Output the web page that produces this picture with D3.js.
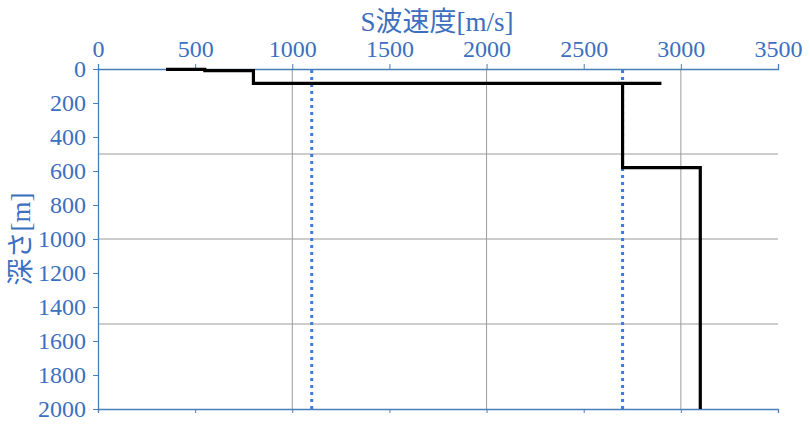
<!DOCTYPE html>
<html><head><meta charset="utf-8">
<script src="https://cdn.jsdelivr.net/npm/d3@7"></script>
<style>
body{margin:0;background:#fff}
svg text{font-family:"Liberation Serif","Times New Roman",Times,"Noto Sans CJK JP",serif !important;}
</style>
</head><body>
<svg id="c" width="810" height="426"></svg>
<script>
const xTicks = [0,500,1000,1500,2000,2500,3000,3500];
const yTicks = [0,200,400,600,800,1000,1200,1400,1600,1800,2000];
const xGrid = [1000,2000,3000];
const yGrid = [500,1000,1500];
// step profile: velocity (m/s) vs depth (m)
const profileVel   = [350, 550, 550, 800, 800, 2900, 2700, 2700, 3100, 3100];
const profileDepth = [2,   2,   10,  10,  85,  85,   85,   580,  580,  2000];
const refVel = [1100, 2700];

const svg = d3.select("#c");
const L=98, R=778, T=69, B=409;
const x = d3.scaleLinear().domain([0,3500]).range([L,R]);
const y = d3.scaleLinear().domain([0,2000]).range([T,B]);
const blue="#4a7ebb", txt="#3c6fc0";

// grid
svg.append("g").selectAll("line").data(xGrid).join("line")
  .attr("x1",d=>x(d)).attr("x2",d=>x(d)).attr("y1",T).attr("y2",B)
  .attr("stroke","#9a9a9a").attr("stroke-width",1);
svg.append("g").selectAll("line").data(yGrid).join("line")
  .attr("x1",L).attr("x2",R).attr("y1",d=>y(d)).attr("y2",d=>y(d))
  .attr("stroke","#9a9a9a").attr("stroke-width",1);

// axes
function styleAxis(g){
  g.attr("font-family",null).attr("font-size",null);
  g.select(".domain").attr("stroke",blue).attr("stroke-width",1.3);
  g.selectAll(".tick line").attr("stroke",blue);
  g.selectAll(".tick text").attr("fill",txt).attr("font-size",24);
}
const fmt = d3.format("d");
svg.append("g").attr("transform",`translate(0,${T})`)
  .call(d3.axisTop(x).tickValues(xTicks).tickFormat(fmt).tickSize(5).tickSizeOuter(5).tickPadding(7))
  .call(styleAxis);
svg.append("g").attr("transform",`translate(0,${B})`)
  .call(d3.axisBottom(x).tickValues(xTicks).tickSize(4).tickSizeOuter(4).tickFormat(""))
  .call(styleAxis);
svg.append("g").attr("transform",`translate(${L},0)`)
  .call(d3.axisLeft(y).tickValues(yTicks).tickFormat(fmt).tickSize(5).tickSizeOuter(0).tickPadding(7))
  .call(styleAxis);

// reference dotted lines
svg.append("g").selectAll("line").data(refVel).join("line")
  .attr("x1",d=>x(d)).attr("x2",d=>x(d)).attr("y1",T+1).attr("y2",B)
  .attr("stroke","#3b7ddd").attr("stroke-width",3).attr("stroke-dasharray","3,4");

// profile
const pts = profileVel.map((v,i)=>[v,profileDepth[i]]);
svg.append("path").datum(pts)
  .attr("d",d3.line().x(d=>x(d[0])).y(d=>y(d[1])))
  .attr("fill","none").attr("stroke","#000").attr("stroke-width",3.2)
  .attr("stroke-linejoin","miter");

// titles
svg.append("text").attr("x",437).attr("y",31).attr("text-anchor","middle")
  .attr("fill",txt).attr("font-size",27).text("S波速度[m/s]");
svg.append("text").attr("transform","translate(30,239) rotate(-90)").attr("text-anchor","middle")
  .attr("fill",txt).attr("font-size",27).text("深さ[m]");
</script>
</body></html>
